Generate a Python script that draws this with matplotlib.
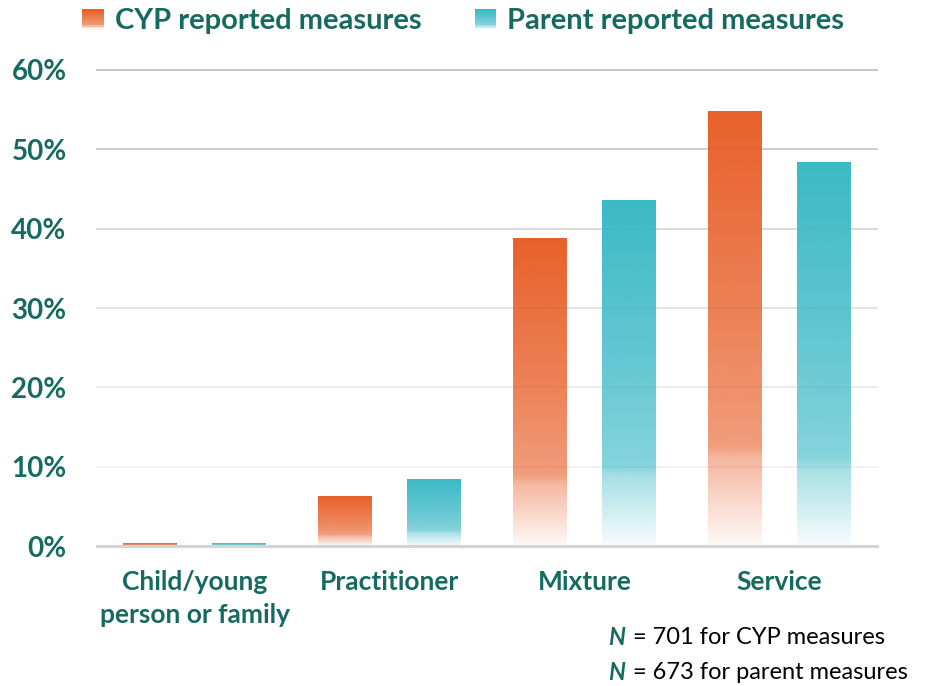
import matplotlib
matplotlib.use("Agg")
import matplotlib.pyplot as plt
import matplotlib.patches as mpatches
from matplotlib.legend_handler import HandlerBase
import numpy as np

categories = ["Child/young\nperson or family", "Practitioner", "Mixture", "Service"]
series_names = ["CYP reported measures", "Parent reported measures"]
cyp_values = [0.3, 6.3, 38.8, 54.8]
parent_values = [0.3, 8.4, 43.5, 48.3]
yticks = [0, 10, 20, 30, 40, 50, 60]
notes = ["= 701 for CYP measures", "= 673 for parent measures"]

ORANGE = "#E8602A"
TEAL = "#3BB9C6"
TEXT = "#176A62"
FONT = "Lato"

# alpha along the bar, from top (0) to bottom (1)
GRAD_POS = [0.0, 0.5, 0.77, 0.80, 1.0]
GRAD_ALPHA = [1.0, 0.78, 0.62, 0.45, 0.04]


def gradient_image(color, n=200):
    rgb = matplotlib.colors.to_rgb(color)
    t = np.linspace(0, 1, n)
    a = np.interp(t, GRAD_POS, GRAD_ALPHA)
    img = np.ones((n, 1, 4))
    img[:, 0, :3] = rgb
    img[:, 0, 3] = a
    return img


def gradient_bar(ax, x, width, height, color):
    img = gradient_image(color)
    ax.imshow(img, extent=[x - width / 2, x + width / 2, 0, height],
              origin="upper", aspect="auto", interpolation="bilinear", zorder=3)


class GradientHandler(HandlerBase):
    def create_artists(self, legend, orig_handle, xdescent, ydescent,
                       width, height, fontsize, trans):
        color = orig_handle.get_facecolor()
        n = 12
        side = height * 1.05
        x0 = -xdescent + (width - side) / 2
        y0 = -ydescent - 0.08 * height
        alphas = np.interp(np.linspace(0, 1, n), GRAD_POS, GRAD_ALPHA)
        arts = []
        for i in range(n):
            r = mpatches.Rectangle((x0, y0 + side * (n - 1 - i) / n), side, side / n,
                                   facecolor=color[:3], alpha=alphas[i],
                                   edgecolor="none", transform=trans)
            arts.append(r)
        return arts


fig = plt.figure(figsize=(9.25, 6.86), dpi=100)
ax = fig.add_axes([0.105, 0.204, 0.843, 0.694])

x = np.arange(len(categories))
bw = 0.277
off = 0.228
for xi, v in zip(x, cyp_values):
    gradient_bar(ax, xi - off, bw, v, ORANGE)
for xi, v in zip(x, parent_values):
    gradient_bar(ax, xi + off, bw, v, TEAL)

ax.set_xlim(-0.5, 3.5)
ax.set_ylim(0, 60)

grid_colors = ["#D4D4D4", "#F1F1F1", "#EBEBEB", "#E3E3E3", "#D9D9D9", "#CDCDCD", "#C4C4C4"]
for yv, c in zip(yticks[1:], grid_colors[1:]):
    ax.axhline(yv, color=c, lw=1.4, zorder=1, clip_on=False)
ax.axhline(0, color=grid_colors[0], lw=2.2, zorder=4, clip_on=False)

for s in ax.spines.values():
    s.set_visible(False)

ax.set_yticks(yticks)
ax.set_yticklabels([f"{v}%" for v in yticks], fontsize=20, fontweight="bold",
                   color=TEXT, family=FONT)
ax.tick_params(axis="y", length=0, pad=22)
ax.set_xticks(x)
ax.set_xticklabels(categories, fontsize=19, fontweight="bold", color=TEXT,
                   family=FONT, linespacing=1.45, va="top")
ax.tick_params(axis="x", length=0, pad=17)

handles = [mpatches.Patch(facecolor=ORANGE), mpatches.Patch(facecolor=TEAL)]
leg = fig.legend(handles, series_names, loc="center", bbox_to_anchor=(0.502, 0.970),
                 ncol=2, frameon=False, handler_map={mpatches.Patch: GradientHandler()},
                 prop={"family": FONT, "weight": "bold", "size": 21},
                 handlelength=0.6, handletextpad=0.45, columnspacing=1.9)
for t in leg.get_texts():
    t.set_color(TEXT)

for i, note in enumerate(notes):
    y = 0.070 - i * 0.051
    fig.text(0.657, y, "N", fontsize=17, fontweight="bold", style="italic",
             color=TEXT, va="center", family=FONT)
    fig.text(0.684, y, note, fontsize=17, color="black", va="center", family=FONT)

fig.savefig("out.png", dpi=100)
